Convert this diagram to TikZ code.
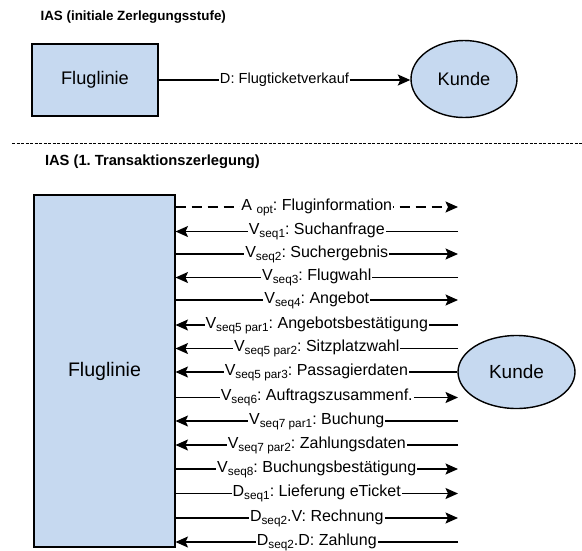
\documentclass[tikz,border=0pt]{standalone}
\usepackage{fontspec}
\setmainfont{Liberation Sans}
\usetikzlibrary{arrows.meta,shapes.geometric}
\definecolor{boxblue}{HTML}{C6D9F0}
\newcommand{\sbs}[1]{\raisebox{-3pt}{\fontsize{11.8}{13}\selectfont #1}}
\frenchspacing
\tikzset{
  entitybox/.style={draw=black, line width=1.4pt, fill=boxblue, rectangle, inner sep=0pt, font=\fontsize{18.2}{22}\selectfont},
  entityell/.style={draw=black, line width=1.4pt, fill=boxblue, ellipse, inner sep=0pt, font=\fontsize{18.2}{22}\selectfont},
  flow/.style={line width=1.5pt, -{Stealth[length=12.5pt,width=11pt,inset=2.5pt]}},
  optflow/.style={flow, dash pattern=on 10pt off 6pt},
  lbltop/.style={fill=white, inner xsep=1pt, inner ysep=1pt, font=\frenchspacing\fontsize{14.6}{17}\selectfont},
  lbl/.style={fill=white, inner xsep=1pt, inner ysep=1pt, font=\frenchspacing\fontsize{16}{18}\selectfont},
  ttl/.style={anchor=base west, font=\bfseries\fontsize{13.4}{16}\selectfont},
  sep/.style={line width=1pt, dash pattern=on 3pt off 1.5pt}
}
\begin{document}
\begin{tikzpicture}[x=1pt,y=-1pt]
\useasboundingbox (0,0) rectangle (582,550);

% top section
\node[ttl] (t1) at (37,20) {IAS (initiale Zerlegungsstufe)};
\node[entitybox, minimum width=126pt, minimum height=72pt] (F1) at (95,80) {Fluglinie};
\node[entityell, minimum width=106pt, minimum height=77pt] (K1) at (464,79) {Kunde};
\draw[flow] (F1.east) -- node[lbltop] {D: Flugticketverkauf} (F1.east -| K1.west);

% separator
\coordinate (s1) at (12,143);
\coordinate (s2) at (582,143);
\draw[sep] (s1) -- (s2);

% lower section
\node[ttl, font=\bfseries\fontsize{14.7}{17}\selectfont] (t2) at (41.5,165) {IAS (1. Transaktionszerlegung)};
\node[entitybox, minimum width=141pt, minimum height=352pt, font=\fontsize{19.6}{23}\selectfont] (F2) at (104.5,371) {Fluglinie};
\node[entityell, minimum width=117pt, minimum height=73pt, font=\fontsize{19}{23}\selectfont] (K2) at (516.5,372) {Kunde};

\foreach \i/\y in {1/207,2/231.5,3/254,4/277.5,5/300,6/325,7/348.5,8/372,9/397.5,10/421,11/445,12/469,13/493.5,14/518,15/542}{
  \coordinate (L\i) at (175.5,\y);
  \coordinate (R\i) at (458,\y);
}

\draw[optflow] (L1) -- node[lbl] {A \sbs{opt}: Fluginformation} (R1);
\draw[flow] (R2) -- node[lbl] {V\sbs{seq1}: Suchanfrage} (L2);
\draw[flow] (L3) -- node[lbl] {V\sbs{seq2}: Suchergebnis} (R3);
\draw[flow] (R4) -- node[lbl] {V\sbs{seq3}: Flugwahl} (L4);
\draw[flow] (L5) -- node[lbl] {V\sbs{seq4}: Angebot} (R5);
\draw[flow] (R6) -- node[lbl] {V\sbs{seq5 par1}: Angebotsbestätigung} (L6);
\draw[flow] (R7) -- node[lbl] {V\sbs{seq5 par2}: Sitzplatzwahl} (L7);
\draw[flow] (K2.west) -- node[lbl] {V\sbs{seq5 par3}: Passagierdaten} (L8);
\draw[flow] (L9) -- node[lbl] {V\sbs{seq6}: Auftragszusammenf.} (R9);
\draw[flow] (R10) -- node[lbl] {V\sbs{seq7 par1}: Buchung} (L10);
\draw[flow] (R11) -- node[lbl] {V\sbs{seq7 par2}: Zahlungsdaten} (L11);
\draw[flow] (L12) -- node[lbl] {V\sbs{seq8}: Buchungsbestätigung} (R12);
\draw[flow] (L13) -- node[lbl] {D\sbs{seq1}: Lieferung eTicket} (R13);
\draw[flow] (L14) -- node[lbl] {D\sbs{seq2}.V: Rechnung} (R14);
\draw[flow] (R15) -- node[lbl] {D\sbs{seq2}.D: Zahlung} (L15);
\end{tikzpicture}
\end{document}
